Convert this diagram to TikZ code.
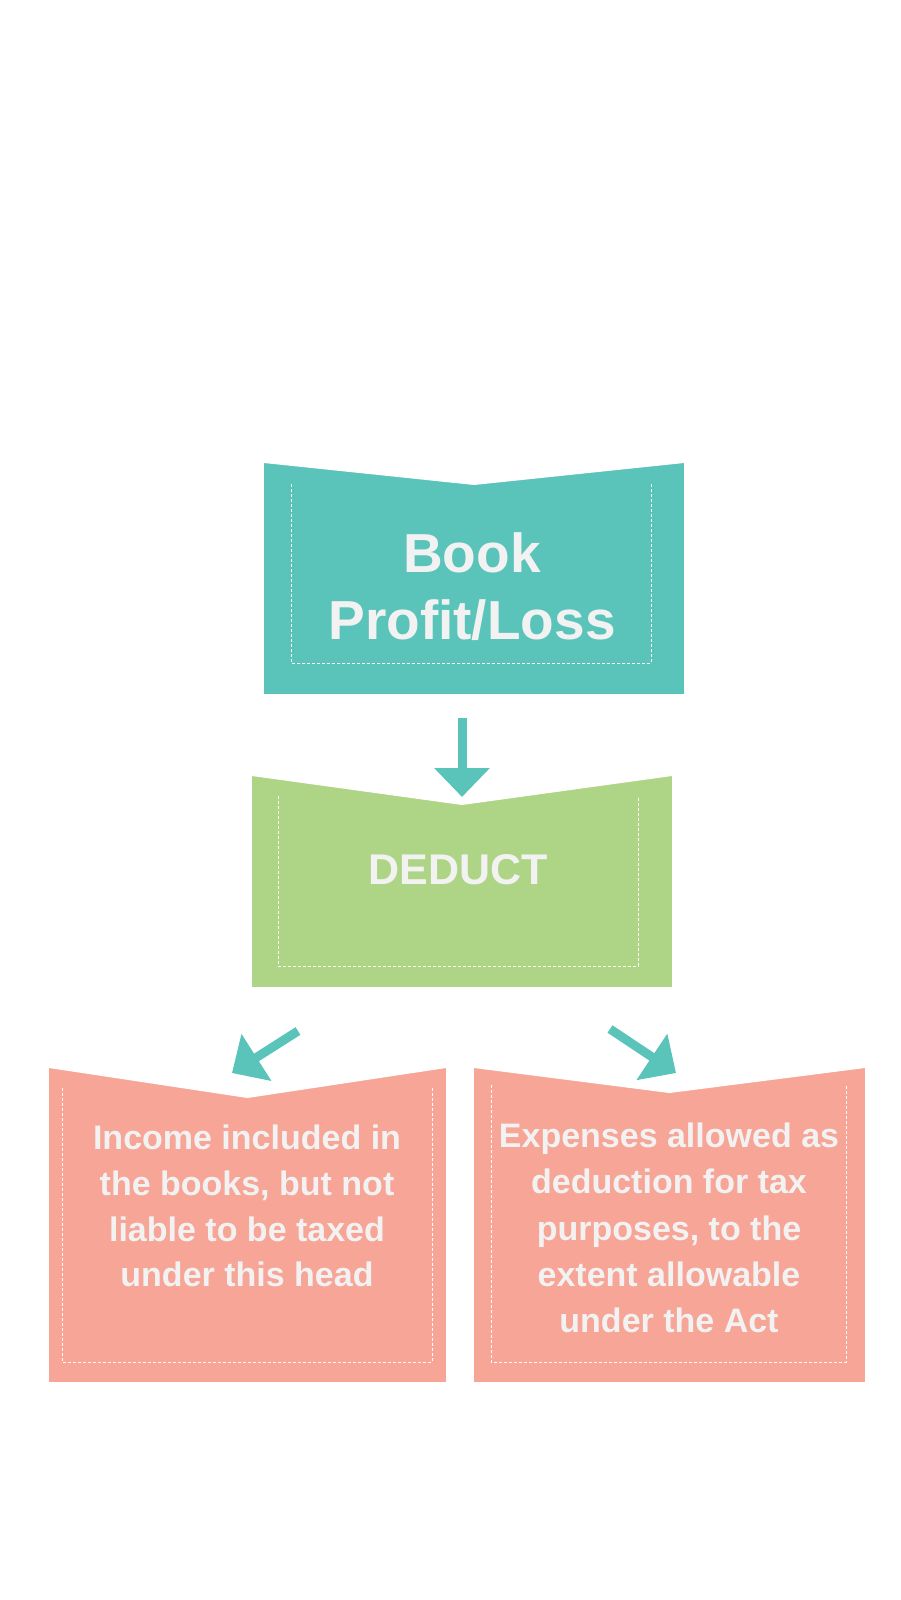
\documentclass[tikz,border=0pt]{standalone}
\usepackage{fontspec}
\setmainfont{Liberation Sans}
\usetikzlibrary{arrows.meta, calc, positioning}
\definecolor{bookteal}{RGB}{91,196,186}
\definecolor{deductgreen}{RGB}{174,212,133}
\definecolor{itempink}{RGB}{246,165,150}
\definecolor{labelgray}{RGB}{242,242,242}
\tikzset{
  card/.style={rectangle, inner sep=0pt, outer sep=0pt}, % the coloured block
  seam/.style={draw=white, line width=0.8pt, dash pattern=on 3pt off 2pt}, % dashed inner frame
  label/.style={text=labelgray, align=center, inner sep=0pt},
  flow/.style={draw=bookteal, line width=9pt, -{Triangle[width=54pt,length=29pt]}}, % thick block arrow
}
% cut the V notch out of the top of a card
\newcommand{\notch}[2]{\fill[white] (#1.north west) -- ($(#1.north)+(0,#2)$) -- (#1.north east) -- cycle;}
% open dashed frame (sides and bottom): card, left, top, right, bottom insets
\newcommand{\seamframe}[5]{\draw[seam] ($(#1.north west)+(#2,#3)$) -- ($(#1.south west)+(#2,-#5)$)
  -- ($(#1.south east)+(-#4,-#5)$) -- ($(#1.north east)+(-#4,#3)$);}

\begin{document}
\begin{tikzpicture}[x=1pt, y=-1pt]
\useasboundingbox (0,0) rectangle (900,1600);
\fill[white] (0,0) rectangle (900,1600);

% cards
\node[card, fill=bookteal, minimum width=420pt, minimum height=231pt] (bookbox) at (474,578.5) {};
\node[card, fill=deductgreen, minimum width=420pt, minimum height=211pt] (dedbox) at (462,881.5) {};
\node[card, fill=itempink, minimum width=397pt, minimum height=314pt] (incbox) at (247.5,1225) {};
\node[card, fill=itempink, minimum width=391pt, minimum height=314pt] (expbox) at (669.5,1225) {};

\notch{bookbox}{22}
\notch{dedbox}{29}
\notch{incbox}{30}
\notch{expbox}{25}

% dashed frames
\seamframe{bookbox}{27}{21}{33}{31}
\seamframe{dedbox}{26}{20}{34}{21}
\seamframe{incbox}{13}{20}{14}{20}
\seamframe{expbox}{17}{17}{19}{20}

% texts
\node[label, font=\fontsize{55}{67}\selectfont\bfseries] (book) at (472,587) {Book\\Profit/Loss};
\node[label, font=\fontsize{43}{50}\selectfont\bfseries] (deduct) at (458,869.5) {DEDUCT};
\node[label, font=\fontsize{34}{45.7}\selectfont\bfseries] (income) at (247,1206)
  {Income included in\\the books, but not\\liable to be taxed\\under this head};
\node[label, font=\fontsize{34}{46.2}\selectfont\bfseries] (expense) at (669,1228)
  {Expenses allowed as\\deduction for tax\\purposes, to the\\extent allowable\\under the Act};

% arrows
\coordinate (downtail) at (462,718);
\coordinate (downtip) at (462,797);
\coordinate (lefttail) at (298,1031);
\coordinate (lefttip) at (232,1073);
\coordinate (righttail) at (610,1029);
\coordinate (righttip) at (676,1073);

\draw[flow] (downtail) -- (downtip);
\draw[flow] (lefttail) -- (lefttip);
\draw[flow] (righttail) -- (righttip);
\end{tikzpicture}
\end{document}
